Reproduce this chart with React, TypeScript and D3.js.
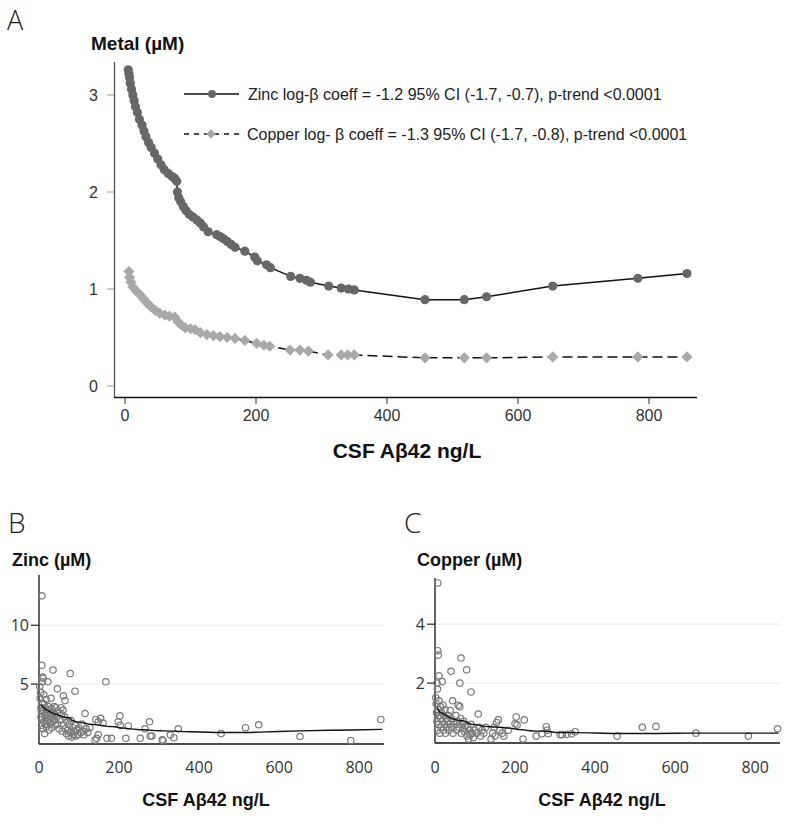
import React from "react";
import * as d3 from "d3";

// Panel A fitted values (x = CSF Aβ42 ng/L, y = µM)
const zincFitX = [5,6,7,8,10,12,14,16,19,22,26,29,32,36,40,45,50,55,60,66,72,76,79,80,82,85,89,93,98,104,110,115,120,127,140,145,150,156,162,168,183,198,202,216,222,253,267,277,283,311,330,341,350,458,518,552,653,783,858];
const zincFitY = [3.26,3.22,3.18,3.12,3.06,3.0,2.94,2.88,2.82,2.75,2.69,2.63,2.57,2.51,2.46,2.40,2.34,2.28,2.23,2.19,2.16,2.14,2.11,2.0,1.94,1.90,1.85,1.81,1.77,1.74,1.71,1.68,1.64,1.59,1.56,1.54,1.52,1.49,1.46,1.43,1.39,1.33,1.29,1.25,1.22,1.13,1.11,1.09,1.07,1.03,1.01,1.0,0.99,0.89,0.89,0.92,1.03,1.11,1.16];

const copperFitX = [6,7,9,12,17,23,28,33,39,46,53,61,68,76,81,86,92,100,107,115,125,135,145,156,168,183,201,212,221,252,267,280,310,330,340,350,458,518,552,653,783,858];
const copperFitY = [1.18,1.12,1.07,1.02,0.98,0.94,0.90,0.86,0.82,0.78,0.75,0.73,0.72,0.71,0.66,0.63,0.60,0.59,0.58,0.55,0.53,0.52,0.51,0.50,0.49,0.47,0.44,0.42,0.41,0.37,0.37,0.36,0.32,0.32,0.32,0.32,0.29,0.29,0.29,0.30,0.30,0.30];

// Panel B raw zinc observations
const zincObsX = [2,3,4,5,5,6,6,7,7,8,8,9,9,10,10,11,12,12,13,14,14,15,16,17,18,19,20,21,22,23,24,25,26,27,28,30,30,31,32,33,35,35,36,38,38,40,41,42,44,46,46,48,50,52,55,56,58,60,61,62,64,65,66,68,70,72,74,76,78,78,80,82,84,86,88,90,90,92,95,98,100,104,107,110,112,115,118,122,127,140,142,144,148,148,154,160,167,170,181,198,202,203,217,223,253,265,276,278,282,308,310,328,337,348,455,516,549,652,779,854];
const zincObsY = [4.8,3.8,4.3,3.0,2.2,1.5,2.7,6.6,12.5,5.2,3.4,5.6,2.0,5.5,1.2,2.8,4.1,1.8,3.3,2.4,0.8,1.6,3.0,2.1,3.7,1.4,2.6,1.9,5.2,3.1,2.3,1.1,2.8,1.7,2.0,3.8,2.5,1.3,2.9,2.2,6.2,1.8,2.6,3.1,2.0,2.4,1.5,3.0,2.2,4.6,1.6,2.7,1.2,2.0,3.0,2.4,1.0,2.8,4.0,1.5,2.2,3.6,1.2,0.8,1.8,1.1,0.6,1.6,5.9,0.9,1.9,0.5,1.3,0.7,1.0,4.4,1.5,0.6,1.1,0.7,1.3,0.9,1.6,1.0,0.7,2.5,1.2,0.9,1.3,0.25,2.0,0.4,0.7,1.8,2.1,1.7,5.2,0.4,0.4,1.8,2.3,1.5,0.4,1.45,0.4,1.2,1.8,0.6,0.6,0.27,0.2,0.7,0.45,1.2,0.8,1.3,1.55,0.55,0.2,2.0];

// Panel C raw copper observations
const copperObsX = [2,3,4,5,5,6,6,7,7,8,8,9,10,10,11,12,13,14,15,16,18,18,20,21,22,24,25,26,28,30,31,33,35,37,38,40,40,42,44,45,47,50,52,54,56,58,60,62,62,64,65,66,68,70,72,74,76,79,80,82,84,86,88,90,90,93,96,100,104,108,110,114,118,122,127,140,144,148,150,154,158,162,168,172,183,200,203,205,220,223,253,267,278,280,283,313,318,330,341,350,455,518,552,652,783,856];
const copperObsY = [1.5,1.3,1.0,0.7,2.0,1.8,0.4,5.4,3.1,2.95,1.1,0.6,2.25,1.4,0.9,0.3,1.2,0.8,0.5,1.0,2.05,0.7,1.25,0.4,0.9,0.6,1.1,0.3,0.8,0.5,0.7,0.9,0.4,0.6,1.07,2.4,0.8,0.5,1.4,0.3,0.7,0.6,0.9,0.4,0.7,1.25,0.5,2.0,1.2,0.8,2.85,0.3,0.6,0.45,0.7,0.35,0.55,2.45,0.2,0.5,0.1,0.4,0.25,1.7,0.6,0.3,0.15,0.4,0.3,0.95,0.5,0.2,0.4,0.3,0.5,0.1,0.3,0.5,0.2,0.66,0.75,0.4,0.3,0.2,0.4,0.62,0.85,0.58,0.1,0.75,0.2,0.28,0.52,0.4,0.28,0.25,0.25,0.26,0.28,0.35,0.2,0.5,0.53,0.3,0.2,0.45];

const xTicksA = [0, 200, 400, 600, 800];
const yTicksA = [0, 1, 2, 3];
const xTicksBC = [0, 200, 400, 600, 800];
const yTicksB = [5, 10];
const yTicksC = [2, 4];

const legendZinc = "Zinc log-\u03b2 coeff = -1.2 95% CI (-1.7, -0.7), p-trend <0.0001";
const legendCopper = "Copper log- \u03b2 coeff = -1.3 95% CI (-1.7, -0.8), p-trend <0.0001";

const zip = (xs: number[], ys: number[]) => xs.map((x, i) => [x, ys[i]] as [number, number]);

const ARIAL = "'Liberation Sans', Arial, sans-serif";
const OPEN = "'Open Sans', 'Noto Sans', sans-serif";

function diamond(cx: number, cy: number, r: number) {
  return `M${cx},${cy - r}L${cx + r},${cy}L${cx},${cy + r}L${cx - r},${cy}Z`;
}

function PanelA() {
  const x = d3.scaleLinear().domain([0, 800]).range([125, 649]);
  const y = d3.scaleLinear().domain([0, 3]).range([386, 95]);
  const zinc = zip(zincFitX, zincFitY);
  const copper = zip(copperFitX, copperFitY);
  const line = d3.line<[number, number]>().x((d) => x(d[0])).y((d) => y(d[1]));
  return (
    <g>
      <text x={7} y={30} fontFamily={OPEN} fontSize={27} fill="#222" fontWeight={300}>A</text>
      <text x={91} y={50} fontFamily={ARIAL} fontSize={19} fontWeight="bold" fill="#111">Metal (µM)</text>
      {/* axes */}
      <line x1={114.5} x2={114.5} y1={62} y2={397} stroke="#555" strokeWidth={1.3} />
      <line x1={114} x2={697} y1={397.5} y2={397.5} stroke="#111" strokeWidth={1.3} />
      {yTicksA.map((t) => (
        <g key={t}>
          <line x1={107} x2={114} y1={y(t)} y2={y(t)} stroke="#999" strokeWidth={1} />
          <text x={98} y={y(t) + 6} textAnchor="end" fontFamily={ARIAL} fontSize={16} fill="#333">{t}</text>
        </g>
      ))}
      {xTicksA.map((t) => (
        <g key={t}>
          <line x1={x(t)} x2={x(t)} y1={397.5} y2={404} stroke="#333" strokeWidth={1} />
          <text x={x(t)} y={421} textAnchor="middle" fontFamily={ARIAL} fontSize={16} fill="#333">{t}</text>
        </g>
      ))}
      <text x={407} y={458} textAnchor="middle" fontFamily={ARIAL} fontSize={21} fontWeight="bold" fill="#111">CSF A{"\u03b2"}42 ng/L</text>
      {/* lines */}
      <path d={line(copper) || ""} fill="none" stroke="#111" strokeWidth={1.5} strokeDasharray="10,5" />
      <path d={line(zinc) || ""} fill="none" stroke="#111" strokeWidth={1.5} />
      {copper.map((d, i) => (
        <path key={"c" + i} d={diamond(x(d[0]), y(d[1]), 5.6)} fill="#a9a9a9" />
      ))}
      {zinc.map((d, i) => (
        <circle key={"z" + i} cx={x(d[0])} cy={y(d[1])} r={4.6} fill="#676767" />
      ))}
      {/* legend */}
      <line x1={184} x2={239} y1={94} y2={94} stroke="#111" strokeWidth={1.5} />
      <circle cx={212} cy={94} r={4} fill="#676767" />
      <text x={248} y={99.5} fontFamily={ARIAL} fontSize={16} fill="#222">{legendZinc}</text>
      <line x1={184} x2={239} y1={134} y2={134} stroke="#111" strokeWidth={1.5} strokeDasharray="5,5" />
      <path d={diamond(211, 134, 4.8)} fill="#a9a9a9" />
      <text x={247} y={139.5} fontFamily={ARIAL} fontSize={16} fill="#222">{legendCopper}</text>
    </g>
  );
}

function Scatter(props: {
  label: string; title: string; left: number; yMax: number; yBottom: number; yTop: number;
  yTicks: number[]; obsX: number[]; obsY: number[]; fitX: number[]; fitY: number[]; titleX: number;
}) {
  const { label, title, left, yMax, yBottom, yTop, yTicks, obsX, obsY, fitX, fitY, titleX } = props;
  const x = d3.scaleLinear().domain([0, 862]).range([left, left + 345]);
  const y = d3.scaleLinear().domain([0, yMax]).range([yBottom, yTop]);
  const line = d3.line<[number, number]>().x((d) => x(d[0])).y((d) => y(d[1])).curve(d3.curveMonotoneX);
  const obs = zip(obsX, obsY);
  const fit = zip(fitX, fitY);
  return (
    <g>
      <text x={left - 31} y={533} fontFamily={OPEN} fontSize={28} fill="#222" fontWeight={300}>{label}</text>
      <text x={titleX} y={566} fontFamily={ARIAL} fontSize={18} fontWeight="bold" fill="#111">{title}</text>
      {yTicks.map((t) => (
        <g key={t}>
          <line x1={left} x2={left + 345} y1={y(t)} y2={y(t)} stroke="#ececec" strokeWidth={1.2} />
          <line x1={left - 8} x2={left} y1={y(t)} y2={y(t)} stroke="#222" strokeWidth={1.2} />
          <text x={left - 10} y={y(t) + 6} textAnchor="end" fontFamily={OPEN} fontSize={16} fill="#333">{t}</text>
        </g>
      ))}
      <line x1={left} x2={left} y1={yTop - 2} y2={yBottom + 1} stroke="#111" strokeWidth={1.3} />
      <line x1={left} x2={left + 345} y1={yBottom + 1} y2={yBottom + 1} stroke="#111" strokeWidth={1.3} />
      {xTicksBC.map((t) => (
        <text key={t} x={x(t)} y={773} textAnchor="middle" fontFamily={OPEN} fontSize={16} fill="#333">{t}</text>
      ))}
      <text x={left + 167} y={806} textAnchor="middle" fontFamily={ARIAL} fontSize={18} fontWeight="bold" fill="#111">CSF A{"\u03b2"}42 ng/L</text>
      {obs.map((d, i) => (
        <circle key={i} cx={x(d[0])} cy={y(d[1])} r={3.2} fill="none" stroke="#7a7a7a" strokeWidth={1.2} />
      ))}
      <path d={line(fit) || ""} fill="none" stroke="#111" strokeWidth={1.4} />
    </g>
  );
}

export default function App() {
  return (
    <svg width={800} height={824} style={{ position: "absolute", left: 0, top: 0, background: "#fff" }}>
      <rect width={800} height={824} fill="#fff" />
      <PanelA />
      <Scatter label="B" title="Zinc (µM)" left={39} yMax={14.1} yBottom={743} yTop={577} yTicks={yTicksB}
        obsX={zincObsX} obsY={zincObsY} fitX={zincFitX} fitY={zincFitY} titleX={12} />
      <Scatter label="C" title="Copper (µM)" left={435} yMax={5.5} yBottom={742} yTop={580} yTicks={yTicksC}
        obsX={copperObsX} obsY={copperObsY} fitX={copperFitX} fitY={copperFitY} titleX={417} />
    </svg>
  );
}
